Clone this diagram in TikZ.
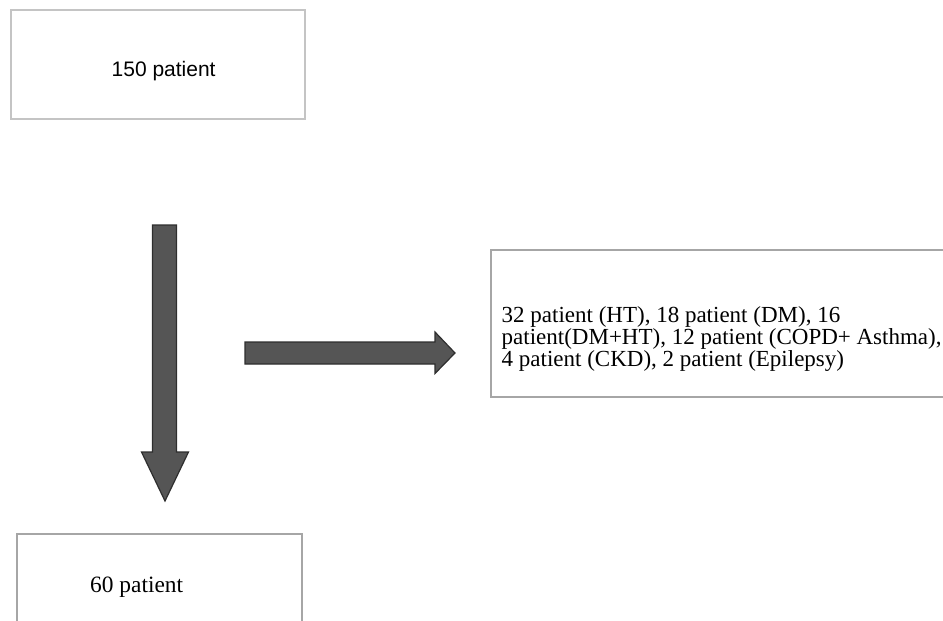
\documentclass[tikz,border=0pt]{standalone}
\usepackage{fontspec}
\setmainfont{Liberation Serif}
\newfontfamily\sansfam{Liberation Sans}
\begin{document}
\begin{tikzpicture}[x=1pt,y=-1pt,
  box/.style={draw=#1,line width=1.2pt,fill=white,inner sep=0pt},
  blockarrow/.style={fill=arrowfill,draw=arrowline,line width=1.2pt,line join=miter},
  txt/.style={inner sep=0pt,anchor=base west}]
\definecolor{arrowfill}{HTML}{555555}
\definecolor{arrowline}{HTML}{2E2E2E}
\definecolor{lightborder}{HTML}{C4C4C4}
\definecolor{midborder}{HTML}{A6A6A6}
\useasboundingbox (0,0) rectangle (943,621);
\clip (0,0) rectangle (943,621);
% boxes
\node[box=lightborder,minimum width=294pt,minimum height=109pt] (top) at (158,64.5) {};
\node[box=midborder,minimum width=520pt,minimum height=147pt] (right) at (751,323.5) {};
\node[box=midborder,minimum width=285pt,minimum height=160pt] (bottom) at (159.5,614) {};
% texts
\node[txt,font=\sansfam\fontsize{21}{24}\selectfont] (ttop) at (111.5,76) {150 patient};
\node[txt,align=left,font=\fontsize{23}{20}\selectfont] (rtxt) at (501.5,366)
  {32 patient (HT), 18 patient (DM), 16\\patient(DM+HT), 12 patient (COPD+ Asthma),\\4 patient (CKD), 2 patient (Epilepsy)};
\node[txt,font=\fontsize{23.4}{20}\selectfont] (tbot) at (90,592) {60 patient};
% block arrows
\draw[blockarrow] (152.5,225) -- (176.5,225) -- (176.5,452) -- (188.5,452) -- (165,501) -- (141.5,452) -- (152.5,452) -- cycle;
\draw[blockarrow] (245,342) -- (435,342) -- (435,332) -- (455,353) -- (435,373.5) -- (435,364) -- (245,364) -- cycle;
\end{tikzpicture}
\end{document}
